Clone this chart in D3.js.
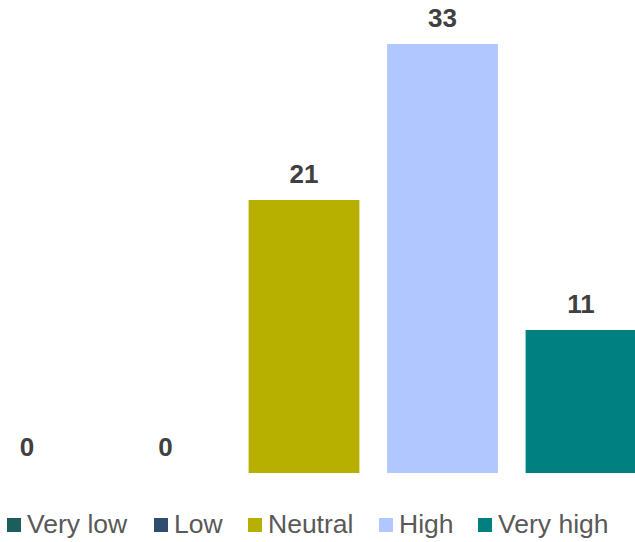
<!DOCTYPE html>
<html><head><meta charset="utf-8">
<script src="https://cdn.jsdelivr.net/npm/d3@7"></script>
<style>html,body{margin:0;padding:0;background:#fff;}svg{display:block;font-family:"Liberation Sans",Arial,sans-serif;}</style>
</head><body>
<script>
const categories = ["Very low","Low","Neutral","High","Very high"];
const values = [0,0,21,33,11];
const colors = ["#1b5e5b","#2f4e6f","#b8b000","#b0c8ff","#008080"];

const W=635,H=542;
const svg=d3.select("body").append("svg").attr("width",W).attr("height",H);
const x=d3.scaleBand().domain(categories).range([-42.25,650.25]).paddingInner(0.2).paddingOuter(0.1);
const y=d3.scaleLinear().domain([0,33]).range([473,44]);

svg.selectAll("rect.bar").data(categories).join("rect").attr("class","bar")
  .attr("x",d=>x(d)).attr("width",x.bandwidth())
  .attr("y",(d,i)=>y(values[i])).attr("height",(d,i)=>y(0)-y(values[i]))
  .attr("fill",(d,i)=>colors[i]);

svg.selectAll("text.lab").data(categories).join("text").attr("class","lab")
  .attr("x",d=>x(d)+x.bandwidth()/2).attr("y",(d,i)=>y(values[i])-17)
  .attr("text-anchor","middle").attr("font-size",26).attr("font-weight","bold").attr("fill","#404040")
  .text((d,i)=>values[i]);

const legX=[7,154,248,379,478];
const lg=svg.append("g");
categories.forEach((c,i)=>{
  lg.append("rect").attr("x",legX[i]).attr("y",518).attr("width",14).attr("height",14).attr("fill",colors[i]);
  lg.append("text").attr("x",legX[i]+20).attr("y",533).attr("font-size",26.5).attr("fill","#595959").text(c);
});
</script>
</body></html>
